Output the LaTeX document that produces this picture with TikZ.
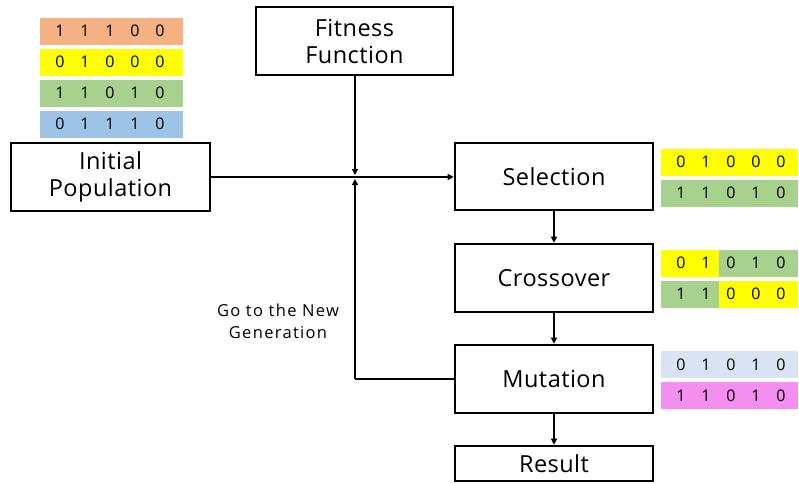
\documentclass[tikz,border=0pt]{standalone}
\usepackage{fontspec}
\setmainfont{Open Sans}
\newfontfamily\notefont[LetterSpace=8]{Open Sans}
\newfontfamily\boxfont[LetterSpace=2]{Open Sans}
\usetikzlibrary{arrows.meta}
\definecolor{cOrange}{HTML}{F4B183}
\definecolor{cYellow}{HTML}{FFFF00}
\definecolor{cGreen}{HTML}{A9D18E}
\definecolor{cBlue}{HTML}{9DC3E6}
\definecolor{cLight}{HTML}{DAE3F3}
\definecolor{cPink}{HTML}{F48FEF}
\begin{document}
\begin{tikzpicture}[x=1pt,y=-1pt,
  stepbox/.style={draw,line width=2.6pt,fill=white,inner sep=0pt,align=center,
    font=\boxfont\fontsize{23.5}{27}\selectfont},
  link/.style={line width=1.3pt,-{Triangle[length=6pt,width=6pt]}},
  plain/.style={line width=1.3pt},
  bits/.style={inner sep=0pt,minimum height=27pt,font=\fontsize{16}{18}\selectfont},
  note/.style={align=center,font=\notefont\fontsize{16.5}{22}\selectfont}]
\useasboundingbox (0,0) rectangle (799,483);
% boxes
\node[stepbox,minimum width=199pt,minimum height=68pt] (init) at (110.5,177) {Initial\\Population};
\node[stepbox,minimum width=197pt,minimum height=68pt] (fit) at (354.5,41) {Fitness\\Function};
\node[stepbox,minimum width=198pt,minimum height=67pt] (sel) at (554,176.5) {Selection};
\node[stepbox,minimum width=198pt,minimum height=68pt] (cross) at (554,278) {Crossover};
\node[stepbox,minimum width=198pt,minimum height=68pt] (mut) at (554,379) {Mutation};
\node[stepbox,minimum width=198pt,minimum height=35pt] (res) at (554,463.5) {Result};
% junction coordinates
\coordinate (jt) at (355,175);
\coordinate (jb) at (355,179);
\coordinate (jc) at (355,379);
% connectors
\draw[link] (init.east |- 0,177) -- (sel.west |- 0,177);
\draw[link] (fit.south -| jt) -- (jt);
\draw[plain] (mut.west) -- (jc);
\draw[link] (jc) -- (jb);
\draw[link] (sel) -- (cross);
\draw[link] (cross) -- (mut);
\draw[link] (mut) -- (res);
\node[note] (lbl) at (278,321) {Go to the New\\Generation};
% bit strings
\node[bits,fill=cOrange,minimum width=143pt] (p1) at (111.5,31) {};
\node[bits,fill=cYellow,minimum width=143pt] (p2) at (111.5,62) {};
\node[bits,fill=cGreen,minimum width=143pt] (p3) at (111.5,93) {};
\node[bits,fill=cBlue,minimum width=143pt] (p4) at (111.5,124) {};
\node[bits,fill=cYellow,minimum width=137pt] (s1) at (729.5,162) {};
\node[bits,fill=cGreen,minimum width=137pt] (s2) at (729.5,193) {};
\node[bits,fill=cYellow,minimum width=58pt] (c1a) at (690,263) {};
\node[bits,fill=cGreen,minimum width=79pt] (c1b) at (758.5,263) {};
\node[bits,fill=cGreen,minimum width=58pt] (c2a) at (690,294) {};
\node[bits,fill=cYellow,minimum width=79pt] (c2b) at (758.5,294) {};
\node[bits,fill=cLight,minimum width=137pt] (m1) at (729.5,364.5) {};
\node[bits,fill=cPink,minimum width=137pt] (m2) at (729.5,395.5) {};
\foreach \row/\x/\y/\s in {p1/110/31/{1,1,1,0,0},p2/110/62/{0,1,0,0,0},p3/110/93/{1,1,0,1,0},p4/110/124/{0,1,1,1,0},
  s1/731/162/{0,1,0,0,0},s2/731/193/{1,1,0,1,0},c1a/731/263/{0,1,0,1,0},c2a/731/294/{1,1,0,0,0},
  m1/731/364.5/{0,1,0,1,0},m2/731/395.5/{1,1,0,1,0}} {
  \foreach \b [count=\i] in \s {\node[bits] (\row-\i) at (\x+\i*25-75,\y) {\b};}
}
\end{tikzpicture}
\end{document}
